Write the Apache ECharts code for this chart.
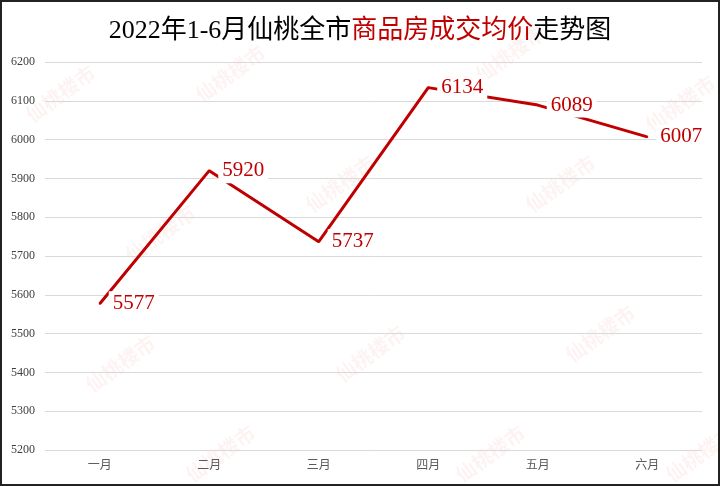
<!DOCTYPE html>
<html><head><meta charset="utf-8">
<script src="https://cdn.jsdelivr.net/npm/echarts@6/dist/echarts.min.js"></script>
<style>html,body{margin:0;padding:0;background:#fff}#c{width:720px;height:486px;box-sizing:border-box;border:2px solid #222}</style>
</head><body><div id="c"></div>
<script>
const categories = ['一月','二月','三月','四月','五月','六月'];
const prices = [5577, 5920, 5737, 6134, 6089, 6007];
const yTicks = [5200, 6200, 100];

const chart = echarts.init(document.getElementById('c'));
const wm = [];
const wmPos = [[20,60],[190,40],[470,20],[640,70],[120,200],[300,150],[520,150],[80,330],[330,320],[560,300],[180,420],[450,420],[660,420]];
wmPos.forEach(p => wm.push({
  type:'text', left:p[0], top:p[1], rotation: Math.PI/5, z:-1, silent:true,
  style:{text:'仙桃楼市', fill:'rgba(220,80,80,0.07)', font:'bold 20px "Noto Sans CJK SC"'}
}));
chart.setOption({
  backgroundColor:'#fff',
  title:{
    left:'center', top:11,
    text:'{b|2022年1-6月仙桃全市}{r|商品房成交均价}{b|走势图}',
    textStyle:{
      rich:{
        b:{fontSize:26, fontWeight:'normal', color:'#000', fontFamily:'"Liberation Serif","Noto Sans CJK SC"'},
        r:{fontSize:26, fontWeight:'normal', color:'#C00000', fontFamily:'"Liberation Serif","Noto Sans CJK SC"'}
      }
    }
  },
  graphic: wm,
  grid:{left:43, right:16, top:60, bottom:34},
  xAxis:{
    type:'category', data:categories, boundaryGap:true,
    axisLine:{show:false}, axisTick:{show:false},
    axisLabel:{color:'#595959', fontSize:12, margin:8, fontFamily:'"Noto Sans CJK SC"'}
  },
  yAxis:{
    type:'value', min:yTicks[0], max:yTicks[1], interval:yTicks[2],
    axisLine:{show:false}, axisTick:{show:false},
    axisLabel:{color:'#404040', fontSize:12, margin:10, fontFamily:'"Liberation Serif"', formatter: v => String(v)},
    splitLine:{lineStyle:{color:'#d9d9d9', width:1}}
  },
  series:[{
    type:'line', data:prices, showSymbol:true, symbol:'circle', symbolSize:2,
    lineStyle:{color:'#C00000', width:3},
    itemStyle:{color:'#C00000'},
    label:{
      show:true, position:'right', distance:8,
      color:'#C00000', fontSize:21, fontFamily:'"Liberation Serif"',
      backgroundColor:'#fff', padding:[2,4,2,4]
    },
    labelLayout:{hideOverlap:false},
    animation:false
  }]
});
</script></body></html>
